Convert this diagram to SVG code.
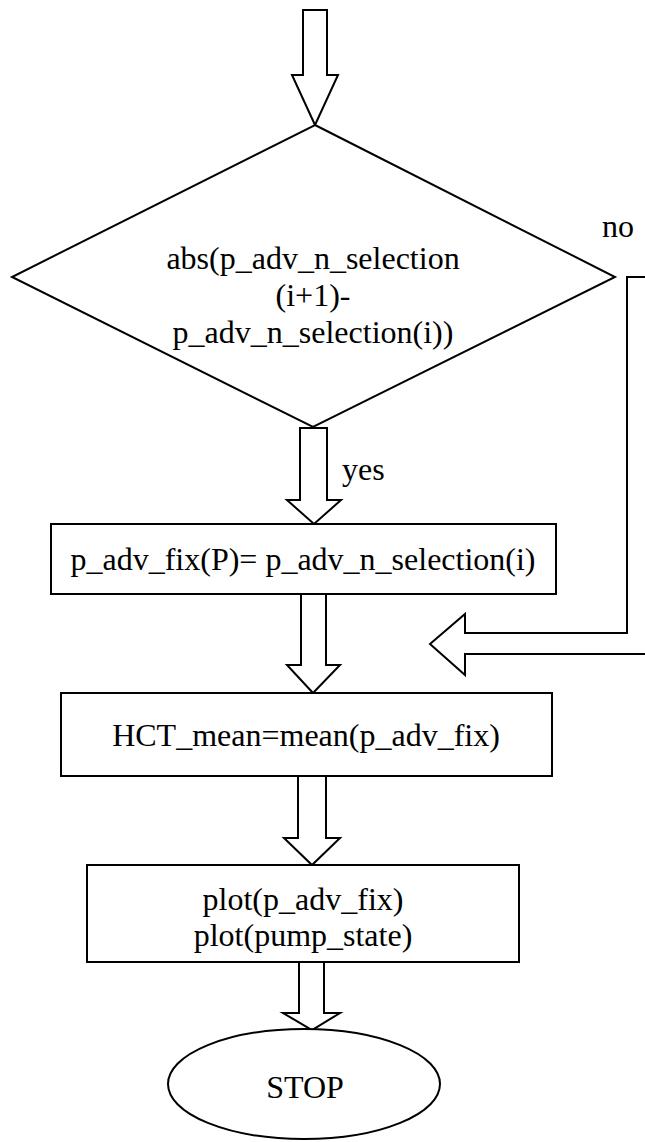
<svg xmlns="http://www.w3.org/2000/svg" width="645" height="1142" viewBox="0 0 645 1142">
  <style>
    .shape { fill: #ffffff; stroke: #000000; stroke-width: 2; stroke-linejoin: miter; }
    .flow { fill: #ffffff; stroke: #000000; stroke-width: 2; stroke-linejoin: miter; }
    .label { font-family: "Liberation Serif", "Times New Roman", serif; font-size: 32px; fill: #000000; }
    .mid { text-anchor: middle; }
  </style>
  <rect x="0" y="0" width="645" height="1142" fill="#ffffff"/>

  <!-- block arrows between the steps -->
  <g id="connectors">
    <!-- entry arrow into the decision -->
    <polygon class="flow" points="303,10 327,10 327,75 338,75 315,125 292,75 303,75"/>
    <!-- yes branch -->
    <polygon class="flow" points="300,428 327,428 327,500 341,500 314,524 287,500 300,500"/>
    <!-- fix step to mean step -->
    <polygon class="flow" points="301,594 326,594 326,665 340,665 313,693 287,665 301,665"/>
    <!-- mean step to plot step -->
    <polygon class="flow" points="298,776 326,776 326,838 340,838 312,865 284,838 298,838"/>
    <!-- plot step to stop -->
    <polygon class="flow" points="299,962 324,962 324,1013 340,1013 312,1030 283,1013 299,1013"/>
    <!-- no branch, bent arrow returning from the right -->
    <polyline class="flow" fill="none" points="646,277 627,277 627,633 465,633 465,614 430,644 465,675 465,654 646,654"/>
  </g>

  <g id="decision">
    <polygon class="shape" points="315,125 615,277 313,427 12,277"/>
    <text class="label mid" x="313" y="269">abs(p_adv_n_selection</text>
    <text class="label mid" x="313" y="306">(i+1)-</text>
    <text class="label mid" x="313" y="343">p_adv_n_selection(i))</text>
  </g>

  <g id="label-no">
    <text class="label" x="602" y="237">no</text>
  </g>

  <g id="label-yes">
    <text class="label" x="342" y="480">yes</text>
  </g>

  <g id="fix-step">
    <rect class="shape" x="51" y="524" width="505" height="70"/>
    <text class="label mid" x="303" y="570">p_adv_fix(P)= p_adv_n_selection(i)</text>
  </g>

  <g id="mean-step">
    <rect class="shape" x="61" y="693" width="491" height="83"/>
    <text class="label mid" x="306" y="746">HCT_mean=mean(p_adv_fix)</text>
  </g>

  <g id="plot-step">
    <rect class="shape" x="87" y="865" width="432" height="97"/>
    <text class="label mid" x="303" y="910">plot(p_adv_fix)</text>
    <text class="label mid" x="303" y="946">plot(pump_state)</text>
  </g>

  <g id="stop">
    <ellipse class="shape" cx="304" cy="1084" rx="136" ry="55"/>
    <text class="label mid" x="305" y="1098">STOP</text>
  </g>
</svg>
